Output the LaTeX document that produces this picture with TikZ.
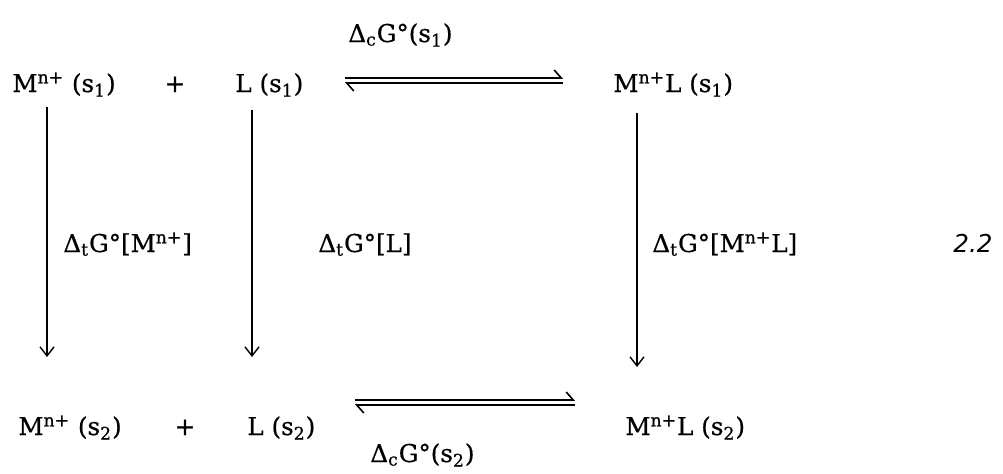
\documentclass[tikz,border=0pt]{standalone}
\usepackage{fontspec}
\setmainfont{DejaVu Serif}[FakeBold=0.6]
\newfontfamily\eqnfont{DejaVu Sans}
\usepackage{tikz}
\usetikzlibrary{arrows.meta,positioning}

\begin{document}
\begin{tikzpicture}[x=0.5pt, y=-0.5pt,
  every node/.style={font=\fontsize{12.3}{15}\selectfont, inner sep=0pt},
  lbl/.style={anchor=base west},
  down/.style={line width=0.7pt,-{Straight Barb[length=4.5pt,width=7pt]}},
  harp/.style={line width=0.8pt,-{Straight Barb[left,length=3.5pt,width=8pt]}}]
  \useasboundingbox (0,0) rectangle (1003,473);

  % solvent s1
  \node[lbl] (m1) at (12,92) {M\textsuperscript{n+} (s\textsubscript{1})};
  \node[anchor=base] (p1) at (175,92) {+};
  \node[lbl] (l1) at (235,92) {L (s\textsubscript{1})};
  \node[lbl] (ml1) at (613,92) {M\textsuperscript{n+}L (s\textsubscript{1})};
  \node[lbl] (gc1) at (348,42) {Δ\textsubscript{c}G°(s\textsubscript{1})};

  % solvent s2
  \node[lbl] (m2) at (18,435) {M\textsuperscript{n+} (s\textsubscript{2})};
  \node[anchor=base] (p2) at (185,435) {+};
  \node[lbl] (l2) at (247,435) {L (s\textsubscript{2})};
  \node[lbl] (ml2) at (625,435) {M\textsuperscript{n+}L (s\textsubscript{2})};
  \node[lbl] (gc2) at (370,462) {Δ\textsubscript{c}G°(s\textsubscript{2})};

  % transfer terms
  \node[lbl] (tm) at (63,252) {Δ\textsubscript{t}G°[M\textsuperscript{n+}]};
  \node[lbl] (tl) at (318,252) {Δ\textsubscript{t}G°[L]};
  \node[lbl] (tml) at (652,252) {Δ\textsubscript{t}G°[M\textsuperscript{n+}L]};
  \node[lbl] (eq) at (953,252) {\eqnfont\itshape 2.2};

  \coordinate (a1) at (47,107);  \coordinate (b1) at (47,357);
  \coordinate (a2) at (252,110); \coordinate (b2) at (252,357);
  \coordinate (a3) at (637,113); \coordinate (b3) at (637,367);
  \draw[down](a1)--(b1); \draw[down](a2)--(b2); \draw[down](a3)--(b3);

  \coordinate (u1) at (345,78);  \coordinate (v1) at (563,78);
  \coordinate (u2) at (345,83);  \coordinate (v2) at (563,83);
  \draw[harp](u1)--(v1); \draw[harp](v2)--(u2);

  \coordinate (u3) at (355,400); \coordinate (v3) at (575,400);
  \coordinate (u4) at (355,405); \coordinate (v4) at (575,405);
  \draw[harp](u3)--(v3); \draw[harp](v4)--(u4);
\end{tikzpicture}
\end{document}
